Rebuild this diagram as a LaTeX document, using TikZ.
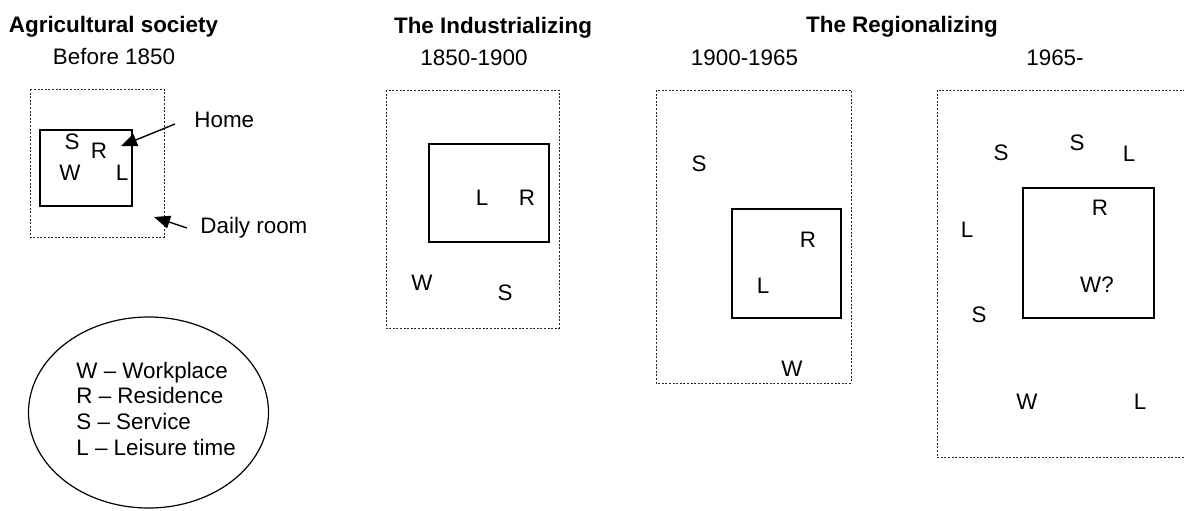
\documentclass[tikz,border=0pt]{standalone}
\usepackage{fontspec}
\setmainfont{Liberation Sans}
\usetikzlibrary{arrows.meta,shapes.geometric}
\tikzset{
  txt/.style={inner sep=0pt, font=\fontsize{11.2}{12.85}\selectfont},
  ttl/.style={inner sep=0pt, font=\fontsize{11.2}{12.85}\selectfont\bfseries},
  lab/.style={inner sep=0pt, font=\fontsize{11.2}{12.85}\selectfont},
  room/.style={draw=black!85, line width=0.5pt, dash pattern=on 1pt off 0.8pt},
  homebox/.style={draw, line width=1pt},
  pointer/.style={draw, line width=0.7pt, -{Triangle[length=8pt,width=6.5pt]}},
}
\begin{document}
\begin{tikzpicture}[x=0.5pt,y=-0.5pt]
\useasboundingbox (0,0) rectangle (1184,510);
\clip (0,0) rectangle (1184,510);

% headings
\node[ttl, anchor=base] (tagr) at (113.5,32) {Agricultural society};
\node[txt, anchor=base] (pagr) at (114,64) {Before 1850};
\node[ttl, anchor=base] (tind) at (493,33) {The Industrializing};
\node[txt, anchor=base] (pind) at (474,65) {1850-1900};
\node[ttl, anchor=base] (treg) at (902,32) {The Regionalizing};
\node[txt, anchor=base] (preg1) at (744.5,65) {1900-1965};
\node[txt, anchor=base] (preg2) at (1055,65) {1965-};

% before 1850
\path[room] (30,89) rectangle (164,237);
\path[homebox] (40,130) rectangle (132,206);
\node[lab] (a-s) at (72,142) {S};
\node[lab] (a-r) at (99,151) {R};
\node[lab] (a-w) at (70,173) {W};
\node[lab] (a-l) at (122,173) {L};
\node[txt, anchor=base west] (home) at (194,127) {Home};
\node[txt, anchor=base west] (daily) at (200,233) {Daily room};
\coordinate (home-tail) at (175,124);
\coordinate (home-tip) at (121,146);
\coordinate (daily-tail) at (187,228);
\coordinate (daily-tip) at (154,217);
\path[pointer] (home-tail) -- (home-tip);
\path[pointer] (daily-tail) -- (daily-tip);

% legend
\node[ellipse, draw, line width=0.6pt, minimum width=120pt, minimum height=95.5pt, inner sep=0pt] (legend) at (148.5,412.5) {};
\node[txt, anchor=base west] (key1) at (76,378) {W – Workplace};
\node[txt, anchor=base west] (key2) at (76,403.5) {R – Residence};
\node[txt, anchor=base west] (key3) at (76,429.5) {S – Service};
\node[txt, anchor=base west] (key4) at (76,455) {L – Leisure time};

% 1850-1900
\path[room] (386,90) rectangle (559,328);
\path[homebox] (429,144) rectangle (549,242);
\node[lab] (b-l) at (482,198) {L};
\node[lab] (b-r) at (527,198) {R};
\node[lab] (b-w) at (422,283) {W};
\node[lab] (b-s) at (505,293) {S};

% 1900-1965
\path[room] (656,90) rectangle (851,383);
\path[homebox] (732,209) rectangle (841,318);
\node[lab] (c-s) at (699,164) {S};
\node[lab] (c-r) at (808,240) {R};
\node[lab] (c-l) at (763,286) {L};
\node[lab] (c-w) at (792,369) {W};

% 1965-
\path[room] (937,90) rectangle (1200,457);
\path[homebox] (1023,188) rectangle (1154,318);
\node[lab] (d-s1) at (1001,153) {S};
\node[lab] (d-s2) at (1077,143) {S};
\node[lab] (d-l1) at (1129,154) {L};
\node[lab] (d-r) at (1100,208) {R};
\node[lab] (d-l2) at (967,230) {L};
\node[lab] (d-w1) at (1097,285) {W?};
\node[lab] (d-s3) at (979,315) {S};
\node[lab] (d-w2) at (1027,402) {W};
\node[lab] (d-l3) at (1140,402) {L};
\end{tikzpicture}
\end{document}
